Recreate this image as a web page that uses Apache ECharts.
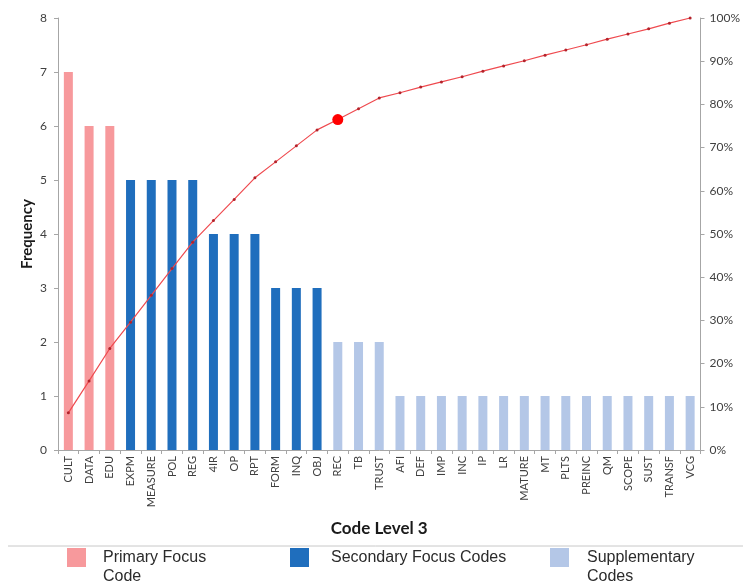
<!DOCTYPE html>
<html>
<head>
<meta charset="utf-8">
<title>Code Level 3 Pareto</title>
<script src="https://cdn.jsdelivr.net/npm/echarts@6/dist/echarts.min.js"></script>
<style>
  html, body { margin: 0; padding: 0; background: #ffffff; }
  #chart { width: 743px; height: 586px; }
</style>
</head>
<body>
<div id="chart"></div>
<script>
// Level-3 codes, ordered by frequency
const codes = ['CULT', 'DATA', 'EDU', 'EXPM', 'MEASURE', 'POL', 'REG', '4IR', 'OP', 'RPT',
  'FORM', 'INQ', 'OBJ', 'REC', 'TB', 'TRUST', 'AFI', 'DEF', 'IMP', 'INC', 'IP', 'LR',
  'MATURE', 'MT', 'PLTS', 'PREINC', 'QM', 'SCOPE', 'SUST', 'TRANSF', 'VCG'];

// Frequency of each code
const frequency = [7, 6, 6, 5, 5, 5, 5, 4, 4, 4,
  3, 3, 3, 2, 2, 2, 1, 1, 1, 1, 1, 1,
  1, 1, 1, 1, 1, 1, 1, 1, 1];

// Code group of each code (0 = primary, 1 = secondary, 2 = supplementary)
const codeGroup = [0, 0, 0, 1, 1, 1, 1, 1, 1, 1,
  1, 1, 1, 2, 2, 2, 2, 2, 2, 2, 2, 2,
  2, 2, 2, 2, 2, 2, 2, 2, 2];

const groupNames = ['Primary Focus Code', 'Secondary Focus Codes', 'Supplementary Codes'];
// Legend captions; the leading blank line keeps the first caption line level with the swatch
const groupLabels = ['\nPrimary Focus\nCode', 'Secondary Focus Codes', '\nSupplementary\nCodes'];

// Cumulative share of all codes (%)
const cumulativePct = [8.6, 16.0, 23.5, 29.6, 35.8, 42.0, 48.1, 53.1, 58.0, 63.0,
  66.7, 70.4, 74.1, 76.5, 79.0, 81.5, 82.7, 84.0, 85.2, 86.4, 87.7, 88.9,
  90.1, 91.4, 92.6, 93.8, 95.1, 96.3, 97.5, 98.8, 100];

const frequencyTicks = { min: 0, max: 8, interval: 1 };
const percentTicks = { min: 0, max: 100, interval: 10 };

const highlightCode = 'REC';

const groupColors = ['#f7999c', '#1f6ebd', '#b4c7e7'];
const axisGrey = '#a6a6a6';
const labelColor = '#404040';
const calibriLike = 'Lato, "Open Sans", sans-serif';
const arialLike = '"Liberation Sans", Arial, sans-serif';

const barSeries = groupNames.map((name, g) => ({
  name: name,
  type: 'bar',
  stack: 'freq',
  barWidth: 9,
  itemStyle: { color: groupColors[g] },
  data: frequency.map((v, i) => (codeGroup[i] === g ? v : '-'))
}));

const lineData = cumulativePct.map((v, i) => {
  if (codes[i] === highlightCode) {
    return { value: v, symbolSize: 11, itemStyle: { color: '#ff0000' } };
  }
  return v;
});

const legendLayout = [
  { left: 67, top: 529, padLeft: 12 },
  { left: 290, top: 548, padLeft: 17 },
  { left: 550, top: 529, padLeft: 13 }
];

const chart = echarts.init(document.getElementById('chart'), null, { renderer: 'canvas' });

chart.setOption({
  animation: false,
  backgroundColor: '#ffffff',
  grid: { left: 58, right: 38, top: 18, bottom: 136, containLabel: false },
  legend: groupNames.map((name, g) => ({
    data: [name],
    left: legendLayout[g].left,
    top: legendLayout[g].top,
    padding: 0,
    icon: 'rect',
    itemWidth: 19,
    itemHeight: 19,
    selectedMode: false,
    formatter: () => groupLabels[g],
    textStyle: {
      fontFamily: arialLike,
      fontSize: 16,
      lineHeight: 19,
      color: '#2b2b2b',
      padding: [0, 0, 0, legendLayout[g].padLeft]
    }
  })),
  graphic: [{
    type: 'line',
    shape: { x1: 8, y1: 546, x2: 743, y2: 546 },
    style: { stroke: '#c8c8c8', lineWidth: 1 },
    z: 0
  }],
  xAxis: {
    type: 'category',
    data: codes,
    name: 'Code Level 3',
    nameLocation: 'middle',
    nameGap: 70,
    nameTextStyle: { fontFamily: calibriLike, fontWeight: 'bold', fontSize: 17, color: '#1a1a1a' },
    axisLine: { lineStyle: { color: axisGrey } },
    axisTick: { show: true, length: 4, lineStyle: { color: axisGrey } },
    axisLabel: {
      interval: 0,
      rotate: 90,
      margin: 6,
      fontFamily: calibriLike,
      fontSize: 11,
      color: labelColor
    }
  },
  yAxis: [{
    type: 'value',
    min: frequencyTicks.min,
    max: frequencyTicks.max,
    interval: frequencyTicks.interval,
    name: 'Frequency',
    nameLocation: 'middle',
    nameRotate: 90,
    nameGap: 23,
    nameMoveOverlap: false,
    nameTextStyle: { fontFamily: calibriLike, fontWeight: 'bold', fontSize: 15, color: '#1a1a1a' },
    axisLine: { show: true, lineStyle: { color: axisGrey } },
    axisTick: { show: true, length: 4, lineStyle: { color: axisGrey } },
    splitLine: { show: false },
    axisLabel: { fontFamily: calibriLike, fontSize: 12, color: labelColor, margin: 11 }
  }, {
    type: 'value',
    position: 'right',
    min: percentTicks.min,
    max: percentTicks.max,
    interval: percentTicks.interval,
    axisLine: { show: true, lineStyle: { color: axisGrey } },
    axisTick: { show: true, length: 4, lineStyle: { color: axisGrey } },
    splitLine: { show: false },
    axisLabel: { formatter: '{value}%', fontFamily: calibriLike, fontSize: 12, color: labelColor, margin: 9 }
  }],
  series: barSeries.concat([{
    name: 'Cumulative %',
    type: 'line',
    yAxisIndex: 1,
    z: 5,
    symbol: 'circle',
    symbolSize: 3,
    itemStyle: { color: '#b3232b' },
    lineStyle: { color: '#ef4a4f', width: 1.2 },
    data: lineData
  }])
});
</script>
</body>
</html>
